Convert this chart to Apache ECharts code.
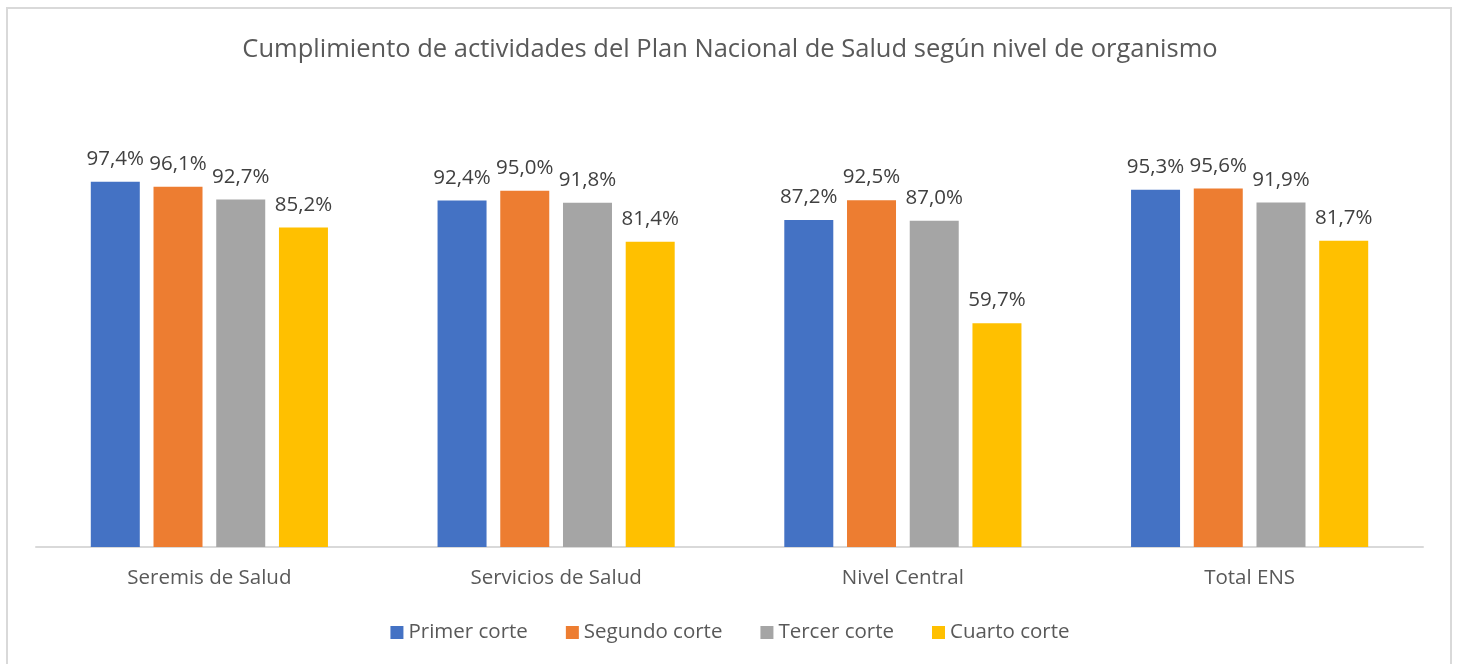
<!DOCTYPE html>
<html>
<head>
<meta charset="utf-8">
<script src="https://cdn.jsdelivr.net/npm/echarts@6/dist/echarts.min.js"></script>
<style>
    html, body { margin: 0; padding: 0; background: #fff; }
    #frame {
        position: absolute; left: 6px; top: 7px; width: 1446px; height: 664px;
        border: 2px solid #d9d9d9; box-sizing: border-box;
    }
    #chart { position: absolute; left: 0; top: 0; width: 1460px; height: 664px; }
</style>
</head>
<body>
<div id="frame"></div>
<div id="chart"></div>
<script>
const categories = ['Seremis de Salud', 'Servicios de Salud', 'Nivel Central', 'Total ENS'];
const seriesNames = ['Primer corte', 'Segundo corte', 'Tercer corte', 'Cuarto corte'];
const primer = [97.4, 92.4, 87.2, 95.3];
const segundo = [96.1, 95.0, 92.5, 95.6];
const tercer = [92.7, 91.8, 87.0, 91.9];
const cuarto = [85.2, 81.4, 59.7, 81.7];
const colors = ['#4472C4', '#ED7D31', '#A5A5A5', '#FFC000'];

const font = 'Open Sans';
let myChart = echarts.init(document.getElementById('chart'));

const values = [primer, segundo, tercer, cuarto];
myChart.setOption({
    animation: false,
    title: {
        text: 'Cumplimiento de actividades del Plan Nacional de Salud según nivel de organismo',
        left: 'center',
        top: 32,
        textStyle: { fontFamily: font, fontSize: 25.5, fontWeight: 'normal', color: '#595959' }
    },
    legend: {
        bottom: 16,
        left: 'center',
        itemWidth: 13,
        itemHeight: 13,
        itemGap: 38,
        icon: 'rect',
        textStyle: { fontFamily: font, fontSize: 20.5, color: '#595959' },
        data: seriesNames
    },
    grid: {
        left: 36,
        right: 37,
        top: 172,
        bottom: 117,
        containLabel: false
    },
    xAxis: {
        type: 'category',
        data: categories,
        axisLine: { lineStyle: { color: '#d9d9d9', width: 2 } },
        axisTick: { show: false },
        axisLabel: { margin: 21, fontFamily: font, fontSize: 20.5, color: '#595959' }
    },
    yAxis: {
        type: 'value',
        min: 0,
        max: 100,
        show: false,
        splitLine: { show: false }
    },
    series: seriesNames.map(function (name, i) {
        return {
            name: name,
            type: 'bar',
            barWidth: 49,
            barGap: '28%',
            itemStyle: { color: colors[i] },
            label: {
                show: true,
                position: 'top',
                distance: 12,
                fontFamily: font,
                fontSize: 20.5,
                color: '#404040',
                formatter: function (p) {
                    return p.value.toFixed(1).replace('.', ',') + '%';
                }
            },
            data: values[i]
        };
    })
});

window.addEventListener('resize', function () {
    myChart.resize();
});
</script>
</body>
</html>
